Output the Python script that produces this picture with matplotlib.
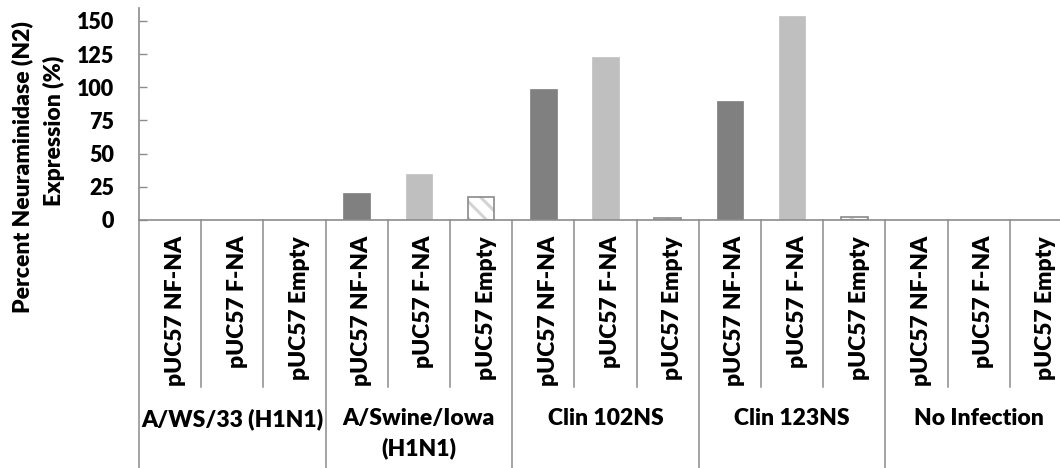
import matplotlib
matplotlib.use("Agg")
import matplotlib.pyplot as plt
import numpy as np

# ---- data ----
groups = ["A/WS/33 (H1N1)", "A/Swine/Iowa\n(H1N1)", "Clin 102NS", "Clin 123NS", "No Infection"]
constructs = ["pUC57 NF-NA", "pUC57 F-NA", "pUC57 Empty"]
nf_na = [0, 20, 99, 90, 0]
f_na = [0, 35, 123, 154, 0]
empty = [0, 17.5, 1.5, 2.5, 0]
yticks = [0, 25, 50, 75, 100, 125, 150]

WEIGHT = 'heavy'
plt.rcParams['font.family'] = ['Lato', 'DejaVu Sans']
plt.rcParams['font.weight'] = 'bold'
plt.rcParams['hatch.linewidth'] = 2.2
plt.rcParams['hatch.color'] = '#d4d4d4'

W, H = 1060, 468
fig = plt.figure(figsize=(W / 100, H / 100), dpi=100)
left_px, right_px, bot_px, top_px = 139, 1072, 220, 7.7
ax = fig.add_axes([left_px / W, 1 - bot_px / H, (right_px - left_px) / W, (bot_px - top_px) / H])

n_groups = len(groups)
n_c = len(constructs)
gray_line = '#8c8c8c'
bw = 0.43

vals = [nf_na, f_na, empty]
for g in range(n_groups):
    for c in range(n_c):
        x = g * n_c + c
        v = vals[c][g]
        if c == 0:
            ax.bar(x, v, width=bw, color='#808080', edgecolor='#8a8a8a', linewidth=0.6)
        elif c == 1:
            ax.bar(x, v, width=bw, color='#bfbfbf', edgecolor='#c6c6c6', linewidth=0.6)
        else:
            if v > 0:
                ax.bar(x, v, width=bw, color='white', edgecolor='#d4d4d4', hatch='\\\\', linewidth=0)
                ax.bar(x, v, width=bw, color='none', edgecolor='#8a8a8a', linewidth=1.2)

n_cat = n_groups * n_c
ax.set_xlim(-0.5, n_cat - 0.5)
ax.set_ylim(0, 160)
ax.set_yticks(yticks)
ax.set_yticklabels([str(t) for t in yticks], fontsize=15.5, fontweight=WEIGHT)
ax.tick_params(axis='y', direction='in', length=6, width=1, color=gray_line, pad=18)
ax.set_xticks([])
for s in ['top', 'right']:
    ax.spines[s].set_visible(False)
for s in ['left', 'bottom']:
    ax.spines[s].set_color(gray_line)
    ax.spines[s].set_linewidth(1.2)

trans = ax.get_xaxis_transform()
ax_h = bot_px - top_px
def ay(px):
    return (bot_px - px) / ax_h

# category separators
for i in range(n_cat + 1):
    xb = i - 0.5
    if i % n_c == 0:
        y_end = ay(H + 5)
    else:
        y_end = ay(387)
    ax.plot([xb, xb], [0, y_end], transform=trans, color=gray_line, lw=1.1, clip_on=False)

# category labels
for i in range(n_cat):
    ax.text(i + 0.08, ay(236), constructs[i % n_c], transform=trans, rotation=90,
            ha='center', va='top', fontsize=16.5, fontweight=WEIGHT, color='black')

# group labels
for g in range(n_groups):
    ax.text(g * n_c + 1, ay(408), groups[g], transform=trans, ha='center', va='top',
            fontsize=16.5, fontweight=WEIGHT, color='black', linespacing=1.45)

# y-axis title (two lines)
fig.text(22 / W, 1 - 167 / H, "Percent Neuraminidase (N2)", rotation=90, ha='center', va='center',
         fontsize=16.5, fontweight=WEIGHT)
fig.text(54 / W, 1 - 131 / H, "Expression (%)", rotation=90, ha='center', va='center',
         fontsize=16.5, fontweight=WEIGHT)

fig.savefig("out.png", dpi=100)
